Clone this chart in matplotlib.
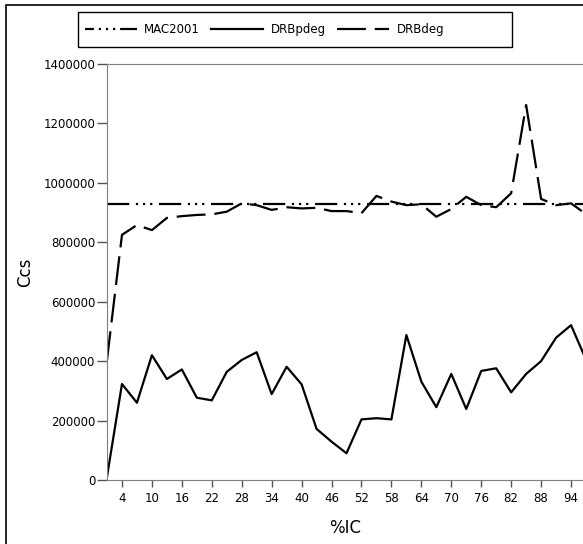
import matplotlib
matplotlib.use("Agg")
import matplotlib.pyplot as plt
from matplotlib.patches import Rectangle

# %IC categories (every 3rd), labels every 6
ic = [1, 4, 7, 10, 13, 16, 19, 22, 25, 28, 31, 34, 37, 40, 43, 46, 49,
      52, 55, 58, 61, 64, 67, 70, 73, 76, 79, 82, 85, 88, 91, 94, 97]
xticks = [4, 10, 16, 22, 28, 34, 40, 46, 52, 58, 64, 70, 76, 82, 88, 94]
yticks = [0, 200000, 400000, 600000, 800000, 1000000, 1200000, 1400000]

mac2001 = 928000
drbpdeg = [11000, 323000, 260000, 420000, 340000, 372000, 277000, 268000,
           364000, 404000, 430000, 289000, 381000, 322000, 172000, 129000,
           90000, 204000, 208000, 204000, 488000, 331000, 245000, 357000,
           239000, 367000, 376000, 295000, 357000, 400000, 479000, 521000,
           405000]
drbdeg = [404000, 825000, 858000, 841000, 882000, 888000, 892000, 894000,
          903000, 931000, 925000, 909000, 918000, 914000, 916000, 905000,
          905000, 898000, 956000, 937000, 925000, 928000, 886000, 912000,
          953000, 925000, 918000, 965000, 1262000, 946000, 925000, 931000,
          895000]

W, H = 583, 544
fig = plt.figure(figsize=(W / 100, H / 100), dpi=100)

# outer frame (clipped at right and bottom like the source)
fig.patches.append(Rectangle((6 / W, -0.1), 1.2, 1 - 5 / H + 0.1,
                             transform=fig.transFigure, fill=False,
                             edgecolor="black", linewidth=1.2))

# axes run a little past the right edge of the picture
ax = fig.add_axes([107 / W, (H - 480) / H, (591 - 107) / W, 416 / H])
ax.set_xlim(1, 98)
ax.set_ylim(0, 1400000)

lw = 1.6
mac_dash = (10, 3, 1, 2.2, 1, 2.2, 1, 3)
l1 = ax.axhline(mac2001, color="black", linewidth=lw,
                dashes=mac_dash, label="MAC2001")
l2, = ax.plot(ic, drbpdeg, color="black", linewidth=lw, label="DRBpdeg")
l3, = ax.plot(ic, drbdeg, color="black", linewidth=lw, dashes=(13, 4),
              label="DRBdeg")

for side in ("left", "bottom", "top"):
    ax.spines[side].set_color("#7f7f7f")
ax.spines["right"].set_visible(False)

ax.set_xticks(xticks)
ax.set_yticks(yticks)
ax.set_yticklabels([str(v) for v in yticks])
ax.tick_params(axis="x", direction="out", length=5, width=1,
               color="#555555", pad=4, labelsize=8.5)
ax.tick_params(axis="y", direction="out", length=7, width=1,
               color="#555555", pad=1.5, labelsize=8.5)

fig.text(25 / W, 1 - 272 / H, "Ccs", rotation=90, fontsize=12,
         ha="center", va="center")
fig.text(345 / W, 1 - 528 / H, "%IC", fontsize=12, ha="center", va="center")

# legend box
fig.patches.append(Rectangle((78 / W, 1 - 47 / H), (512 - 78) / W, 35 / H,
                             transform=fig.transFigure, fill=False,
                             edgecolor="black", linewidth=1))
leg = fig.legend(handles=[l1, l2, l3], loc="center left",
                 bbox_to_anchor=(80 / W, 1 - 29.5 / H), ncol=3,
                 frameon=False, fontsize=8.5, handlelength=4.4,
                 handletextpad=0.6, columnspacing=1.0, borderaxespad=0)
leg.get_lines()[0].set_dashes((4, 2.2, 1, 2.2, 1, 2.2, 1, 2.2, 10))

fig.savefig("out.png", dpi=100)
